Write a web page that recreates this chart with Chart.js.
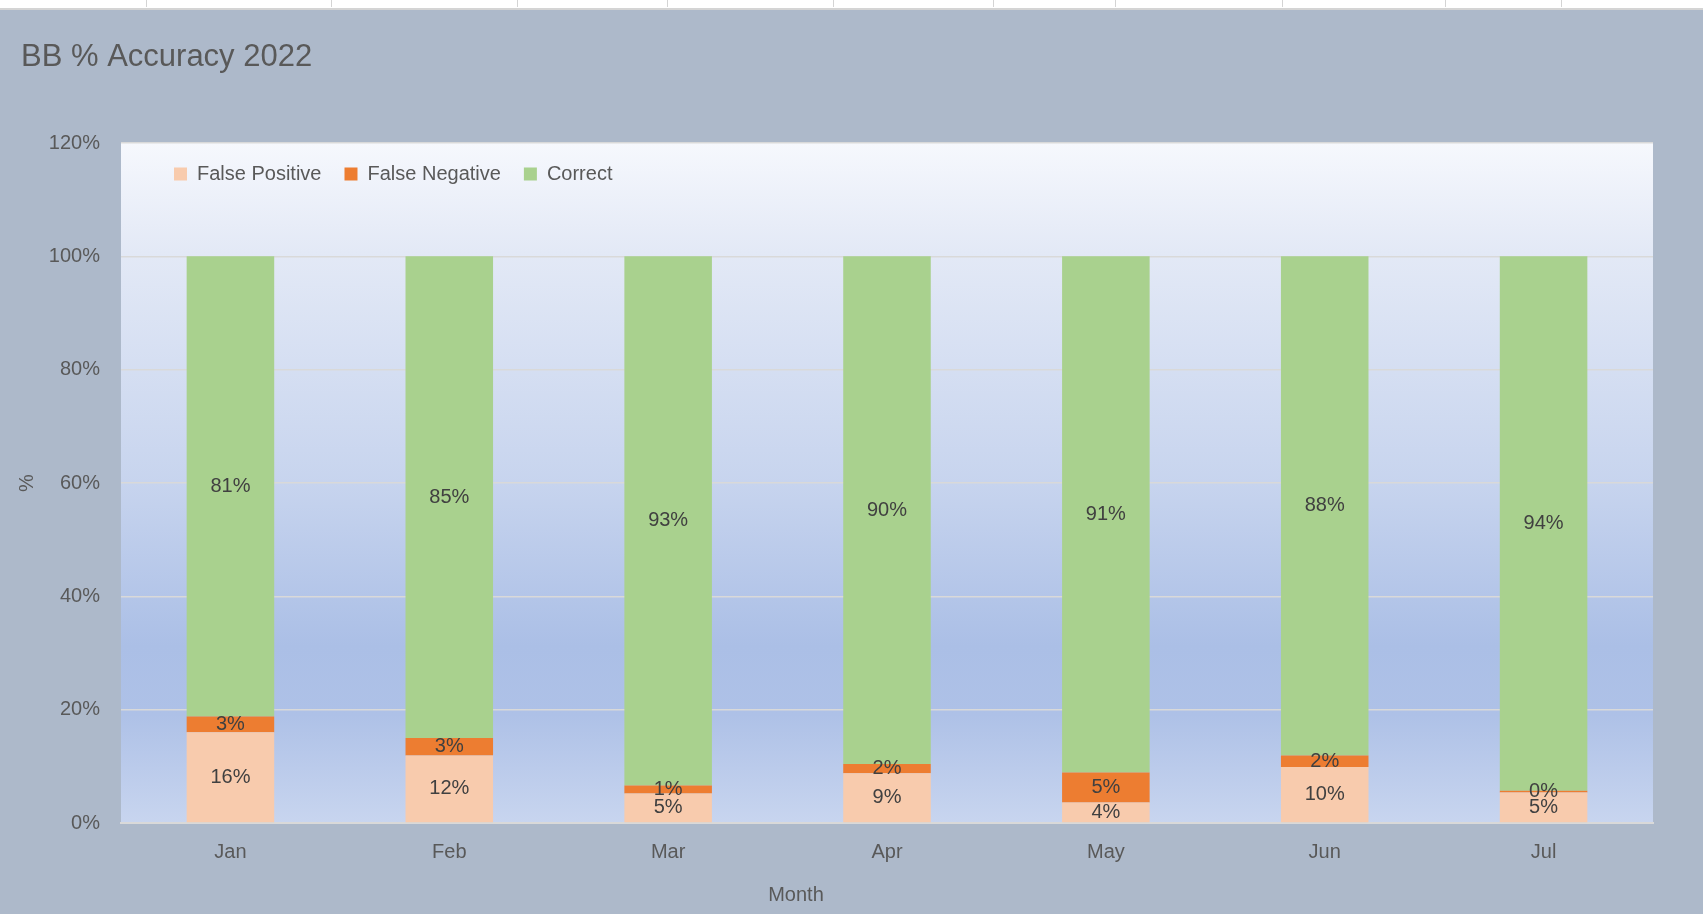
<!DOCTYPE html>
<html>
<head>
<meta charset="utf-8">
<title>BB % Accuracy 2022</title>
<script src="https://cdn.jsdelivr.net/npm/chart.js@4"></script>
<style>
    html, body { margin: 0; padding: 0; background: #ADB9CA; overflow: hidden; }
    #wrap { position: relative; width: 1703px; height: 914px; }
    #sheetStrip { position: absolute; left: 0; top: 0; width: 1703px; height: 8px; background: #fff; border-bottom: 2px solid #D4D4D4; }
    .col { position: absolute; top: 0; width: 1px; height: 7px; background: #D4D4D4; }
    canvas { position: absolute; left: 0; top: 0; }
</style>
</head>
<body>
<div id="wrap">
    <canvas id="accuracyChart" width="1703" height="914"></canvas>
    <div id="sheetStrip"></div>
</div>
<script>
/* ------------------------------
   BB % Accuracy 2022 - stacked bars
   ------------------------------ */

const months = ['Jan', 'Feb', 'Mar', 'Apr', 'May', 'Jun', 'Jul'];
const falsePositive = [16.0, 11.9, 5.2, 8.8, 3.6, 9.9, 5.4];
const falseNegative = [2.8, 3.1, 1.4, 1.6, 5.3, 2.0, 0.3];
const correct = [81.2, 85.0, 93.4, 89.6, 91.1, 88.1, 94.3];
const yTicks = [0, 20, 40, 60, 80, 100, 120];

// spreadsheet column marks above the chart
const strip = document.getElementById('sheetStrip');
[146, 331, 517, 667, 833, 993, 1115, 1282, 1445, 1561].forEach(x => {
    const d = document.createElement('div');
    d.className = 'col';
    d.style.left = x + 'px';
    strip.appendChild(d);
});

const FONT = "'Liberation Sans', Arial, sans-serif";
const PLOT_TOP = 143;
const TITLE_PAD_TOP = 39;

// ------------------------------
// Plugins
// ------------------------------
const plotBackground = {
    id: 'plotBackground',
    beforeDraw(chart) {
        const { ctx, chartArea: a } = chart;
        const g = ctx.createLinearGradient(0, a.top, 0, a.bottom);
        g.addColorStop(0, '#F6F8FD');
        g.addColorStop(0.16, '#E3E9F6');
        g.addColorStop(0.5, '#C7D4EE');
        g.addColorStop(0.74, '#ABBFE6');
        g.addColorStop(0.84, '#AEC1E7');
        g.addColorStop(1, '#C8D5EF');
        ctx.save();
        ctx.fillStyle = g;
        ctx.fillRect(a.left, a.top, a.right - a.left, a.bottom - a.top);
        ctx.restore();
    }
};

// title moves right a bit, legend goes inside the plot area
const boxNudge = {
    id: 'boxNudge',
    afterLayout(chart) {
        const t = chart.titleBlock, l = chart.legend, a = chart.chartArea;
        if (t) { t.left += 21; t.right += 21; }
        if (l) {
            const w = l.right - l.left, h = l.bottom - l.top;
            l.left = a.left + 30; l.right = l.left + w;
            l.top = a.top - 2; l.bottom = l.top + h;
        }
    }
};

const segmentLabels = {
    id: 'segmentLabels',
    afterDatasetsDraw(chart) {
        const { ctx } = chart;
        ctx.save();
        ctx.font = '20px ' + FONT;
        ctx.fillStyle = '#404040';
        ctx.textAlign = 'center';
        ctx.textBaseline = 'middle';
        chart.data.datasets.forEach((ds, i) => {
            chart.getDatasetMeta(i).data.forEach((bar, j) => {
                const p = bar.getCenterPoint();
                ctx.fillText(Math.round(ds.data[j]) + '%', p.x, p.y);
            });
        });
        ctx.restore();
    }
};

const xAxisTitle = {
    id: 'xAxisTitle',
    afterDraw(chart) {
        const { ctx } = chart;
        ctx.save();
        ctx.font = '20px ' + FONT;
        ctx.fillStyle = '#595959';
        ctx.textAlign = 'center';
        ctx.textBaseline = 'middle';
        ctx.fillText('Month', 796, 895);
        ctx.restore();
    }
};

// ------------------------------
// Chart
// ------------------------------
const ctx = document.getElementById('accuracyChart').getContext('2d');
const accuracyChart = new Chart(ctx, {
    type: 'bar',
    data: {
        labels: months,
        datasets: [
            { label: 'False Positive', data: falsePositive, backgroundColor: '#F8CBAD' },
            { label: 'False Negative', data: falseNegative, backgroundColor: '#ED7D31' },
            { label: 'Correct', data: correct, backgroundColor: '#A9D18E' }
        ]
    },
    options: {
        responsive: false,
        animation: false,
        devicePixelRatio: 1,
        layout: { padding: { left: 0, right: 50, top: 0, bottom: 0 } },
        datasets: { bar: { categoryPercentage: 1, barPercentage: 0.4, borderWidth: 0 } },
        plugins: {
            title: {
                display: true,
                text: 'BB % Accuracy 2022',
                align: 'start',
                color: '#595959',
                font: { family: FONT, size: 31, weight: 'normal' },
                padding: { top: TITLE_PAD_TOP, bottom: 10 }
            },
            legend: {
                position: 'top',
                align: 'start',
                labels: {
                    boxWidth: 13,
                    boxHeight: 13,
                    padding: 23,
                    color: '#595959',
                    font: { family: FONT, size: 20 }
                }
            },
            tooltip: { enabled: false }
        },
        scales: {
            x: {
                stacked: true,
                grid: { display: false },
                border: { color: '#D9D9D9', width: 2 },
                ticks: { color: '#595959', padding: 9, font: { family: FONT, size: 20 } },
                afterFit: s => { s.height = 91; }
            },
            y: {
                stacked: true,
                min: 0,
                max: 120,
                afterBuildTicks: s => { s.ticks = yTicks.map(v => ({ value: v })); },
                grid: { color: '#D9D9D9', lineWidth: 1.5, drawTicks: false },
                border: { display: false },
                ticks: {
                    color: '#595959',
                    padding: 21,
                    font: { family: FONT, size: 20 },
                    callback: v => v + '%'
                },
                title: {
                    display: true,
                    text: '%',
                    color: '#595959',
                    font: { family: FONT, size: 20 },
                    padding: { top: 15, bottom: 0 }
                },
                afterFit: s => { s.width = 121; }
            }
        }
    },
    plugins: [plotBackground, boxNudge, segmentLabels, xAxisTitle]
});

// push the plot top to where the reference has it
const gap = PLOT_TOP - accuracyChart.chartArea.top;
if (gap !== 0) {
    accuracyChart.options.plugins.title.padding = { top: TITLE_PAD_TOP, bottom: Math.max(0, 10 + gap) };
    accuracyChart.update();
}
</script>
</body>
</html>
